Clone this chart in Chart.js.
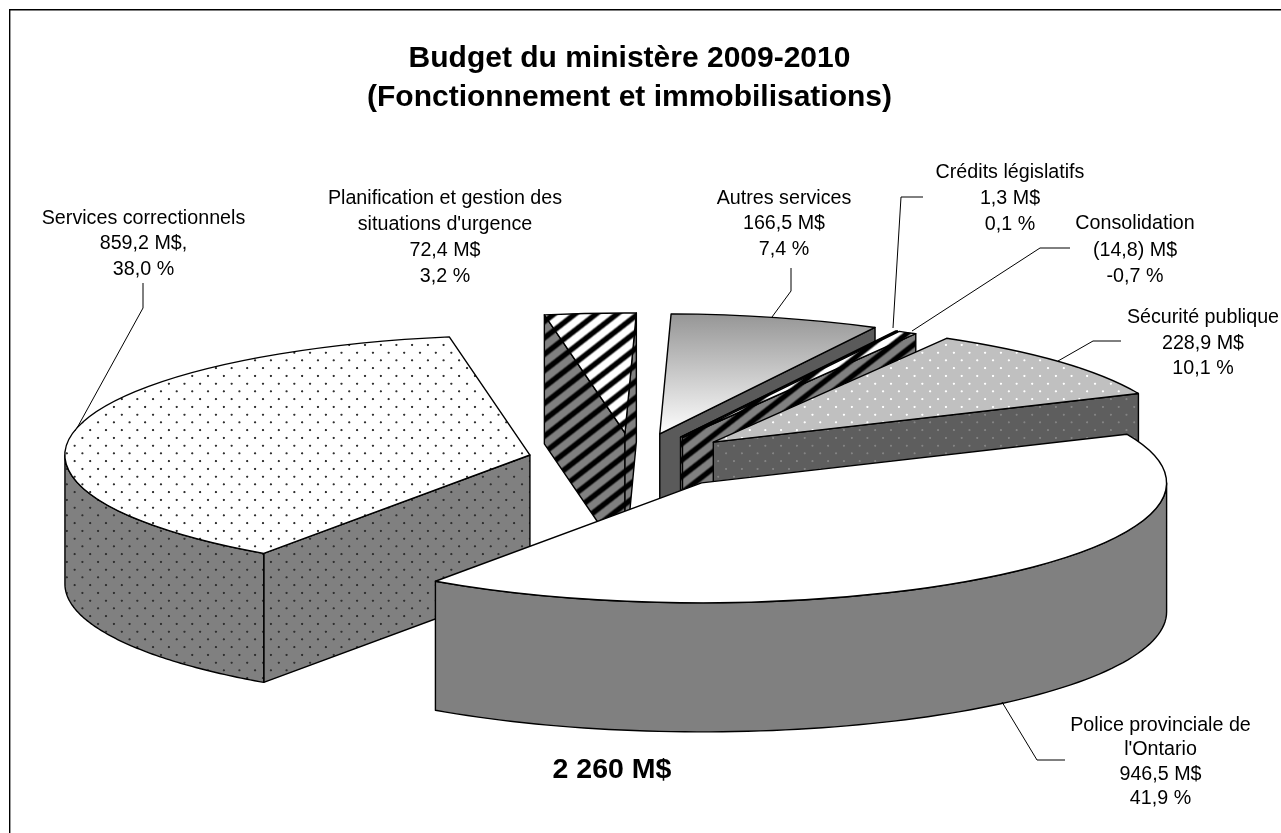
<!DOCTYPE html>
<html lang="fr"><head><meta charset="utf-8"><title>Budget du ministère 2009-2010</title>
<style>html,body{margin:0;padding:0;background:#fff}canvas{display:block}</style>
<script src="https://cdn.jsdelivr.net/npm/chart.js@4"></script>
</head><body><canvas id="c" width="1281" height="833"></canvas>
<script>
const categories = ["Police provinciale de l'Ontario","Services correctionnels","Planification et gestion des situations d'urgence","Autres services","Crédits législatifs","Consolidation","Sécurité publique"];
const valuesM = [946.5, 859.2, 72.4, 166.5, 1.3, -14.8, 228.9];
const explode = [0.232, 0.227, 0.23, 0.23, 0.22, 0.22, 0.232];
const drawOrder = [2, 3, 4, 5, 6, 1, 0];
const titleLines = ["Budget du ministère 2009-2010", "(Fonctionnement et immobilisations)"];
const totalLabel = "2 260 M$";
const labelLines = [
  ["Police provinciale de","l'Ontario","946,5 M$","41,9 %"],
  ["Services correctionnels","859,2 M$,","38,0 %"],
  ["Planification et gestion des","situations d'urgence","72,4 M$","3,2 %"],
  ["Autres services","166,5 M$","7,4 %"],
  ["Crédits législatifs","1,3 M$","0,1 %"],
  ["Consolidation","(14,8) M$","-0,7 %"],
  ["Sécurité publique","228,9 M$","10,1 %"]
];
const labelAnchors = [[1160.5,725.5,24.4],[143.5,218.5,25.5],[445,198.5,26],[784,198.5,25.5],[1010,172.5,26],[1135,224,26.5],[1203,318,25.2]];
const leaders = [
  [[1002,702],[1037,760],[1065,760]],
  [[143,283],[143,308],[77,428]],
  [],
  [[791,268],[791,291],[772,317]],
  [[923,197],[901,197],[893,328]],
  [[1070,248],[1040,248],[912,331]],
  [[1121,341],[1093,341],[1058,361]]
];
const CX = 633, CY = 461, AX = 465, AY = 120, DEPTH = 129;
const FONT = '"Liberation Sans", Arial, sans-serif';

const baseMatrix = new Map();
function tile(w, h, paint, scaleX, scaleY) {
  const cv = document.createElement('canvas'); cv.width = w; cv.height = h;
  const g = cv.getContext('2d'); paint(g, w, h);
  const p = document.createElement('canvas').getContext('2d').createPattern(cv, 'repeat');
  baseMatrix.set(p, new DOMMatrix([scaleX || 1, 0, 0, scaleY || 1, 0, 0]));
  return p;
}
function dots(bg, fg, r) {
  return tile(32, 32, (g) => {
    g.fillStyle = bg; g.fillRect(0, 0, 32, 32);
    g.fillStyle = fg;
    [[8, 8], [24, 24]].forEach(([x, y]) => { g.beginPath(); g.arc(x, y, r * 2, 0, 7); g.fill(); });
  }, 15.7 / 32, 15.5 / 32);
}
function stripes(bg) {
  return tile(21, 21, (g, w, h) => {
    g.fillStyle = bg; g.fillRect(0, 0, w, h);
    const img = g.getImageData(0, 0, w, h);
    for (let y = 0; y < h; y++) for (let x = 0; x < w; x++) {
      const d = Math.abs(((x + y) % 21) / 21 - 0.5);
      const a = Math.min(1, Math.max(0, (0.28 - d) / 0.14));
      const i = (y * w + x) * 4;
      for (let k = 0; k < 3; k++) img.data[i + k] *= (1 - a);
    }
    g.putImageData(img, 0, 0);
  }, 1, 0.78);
}
const autresTop = tile(4, 833, (g, w, h) => {
  const gr = g.createLinearGradient(0, 314, 0, 436);
  gr.addColorStop(0, '#969696'); gr.addColorStop(1, '#ffffff');
  g.fillStyle = gr; g.fillRect(0, 0, w, h);
});
const topFills = ['#ffffff', dots('#ffffff', '#303030', 1.15), stripes('#ffffff'), autresTop, stripes('#ffffff'), stripes('#ffffff'), dots('#c0c0c0', '#ffffff', 1.15)];
const wallFills = ['#808080', dots('#808080', '#303030', 1.15), stripes('#808080'), '#5a5a5a', stripes('#808080'), stripes('#808080'), dots('#5e5e5e', '#848484', 1.1)];

function applyPattern(fill, ctm) {
  if (fill instanceof CanvasPattern) {
    fill.setTransform(ctm.inverse().multiply(baseMatrix.get(fill)));
  }
}

const pie3d = {
  id: 'pie3d',
  beforeDatasetDraw(chart, args) {
    const ctx = chart.ctx, arcs = args.meta.data;
    const identity = new DOMMatrix();
    drawOrder.forEach((i) => {
      const arc = arcs[i];
      const { startAngle: s, endAngle: e, outerRadius: R, x, y } = arc;
      const mid = (s + e) / 2;
      const ox = CX + AX * explode[i] * Math.cos(mid);
      const oy = CY + 122 * explode[i] * Math.sin(mid);
      const P = (t) => [ox + AX * Math.cos(t), oy + AY * Math.sin(t)];
      ctx.save();
      ctx.setTransform(1, 0, 0, 1, 0, 0);
      ctx.lineWidth = 1.4; ctx.strokeStyle = '#000'; ctx.lineJoin = 'round';
      const wall = wallFills[i];
      applyPattern(wall, identity);
      ctx.fillStyle = wall;
      const quad = (t) => {
        const p = P(t);
        ctx.beginPath();
        ctx.moveTo(ox, oy); ctx.lineTo(p[0], p[1]); ctx.lineTo(p[0], p[1] + DEPTH); ctx.lineTo(ox, oy + DEPTH);
        ctx.closePath(); ctx.fill(); ctx.stroke();
      };
      if (Math.sin(s - Math.PI / 2) > 0) quad(s);
      if (Math.sin(e + Math.PI / 2) > 0) quad(e);
      [[0, Math.PI], [2 * Math.PI, 3 * Math.PI]].forEach(([lo, hi]) => {
        const a = Math.max(s, lo), b = Math.min(e, hi);
        if (b <= a) return;
        const n = 80, pts = [];
        for (let k = 0; k <= n; k++) pts.push(P(a + (b - a) * k / n));
        ctx.beginPath();
        pts.forEach((p, k) => k ? ctx.lineTo(p[0], p[1]) : ctx.moveTo(p[0], p[1]));
        for (let k = n; k >= 0; k--) ctx.lineTo(pts[k][0], pts[k][1] + DEPTH);
        ctx.closePath(); ctx.fill(); ctx.stroke();
      });
      const sx = AX / R, sy = AY / R;
      const m = new DOMMatrix([sx, 0, 0, sy, ox - sx * x, oy - sy * y]);
      applyPattern(arc.options.backgroundColor, m);
      ctx.setTransform(m);
      arc.draw(ctx);
      ctx.beginPath();
      ctx.moveTo(x, y); ctx.arc(x, y, R, s, e); ctx.closePath();
      ctx.setTransform(1, 0, 0, 1, 0, 0);
      ctx.stroke();
      ctx.restore();
    });
    return false;
  },
  afterDraw(chart) {
    const ctx = chart.ctx;
    ctx.save();
    ctx.strokeStyle = '#000'; ctx.lineWidth = 1.4;
    ctx.beginPath(); ctx.moveTo(9.7, 833); ctx.lineTo(9.7, 9.7); ctx.lineTo(1281, 9.7); ctx.stroke();
    ctx.lineWidth = 1;
    leaders.forEach((pts) => {
      if (!pts.length) return;
      ctx.beginPath();
      pts.forEach((p, k) => k ? ctx.lineTo(p[0], p[1]) : ctx.moveTo(p[0], p[1]));
      ctx.stroke();
    });
    ctx.fillStyle = '#000'; ctx.textAlign = 'center'; ctx.textBaseline = 'middle';
    ctx.font = '19.7px ' + FONT;
    labelLines.forEach((lines, i) => {
      const [x, y, lh] = labelAnchors[i];
      lines.forEach((t, k) => ctx.fillText(t, x, y + k * lh));
    });
    ctx.font = 'bold 28.5px ' + FONT;
    ctx.fillText(totalLabel, 612, 770.5);
    ctx.restore();
  }
};

new Chart(document.getElementById('c'), {
  type: 'pie',
  data: { labels: categories, datasets: [{ data: valuesM, backgroundColor: topFills, borderWidth: 0, offset: 0, hoverOffset: 0 }] },
  options: {
    responsive: false, animation: false, events: [],
    rotation: 66.1,
    layout: { padding: { left: 0, right: 22, top: 39, bottom: 20 } },
    plugins: {
      legend: { display: false }, tooltip: { enabled: false },
      title: { display: true, text: titleLines, color: '#000', align: 'center',
        font: { family: FONT, size: 30, weight: 'bold', lineHeight: 1.3 }, padding: { top: 0, bottom: 10 } }
    }
  },
  plugins: [pie3d]
});
</script></body></html>
